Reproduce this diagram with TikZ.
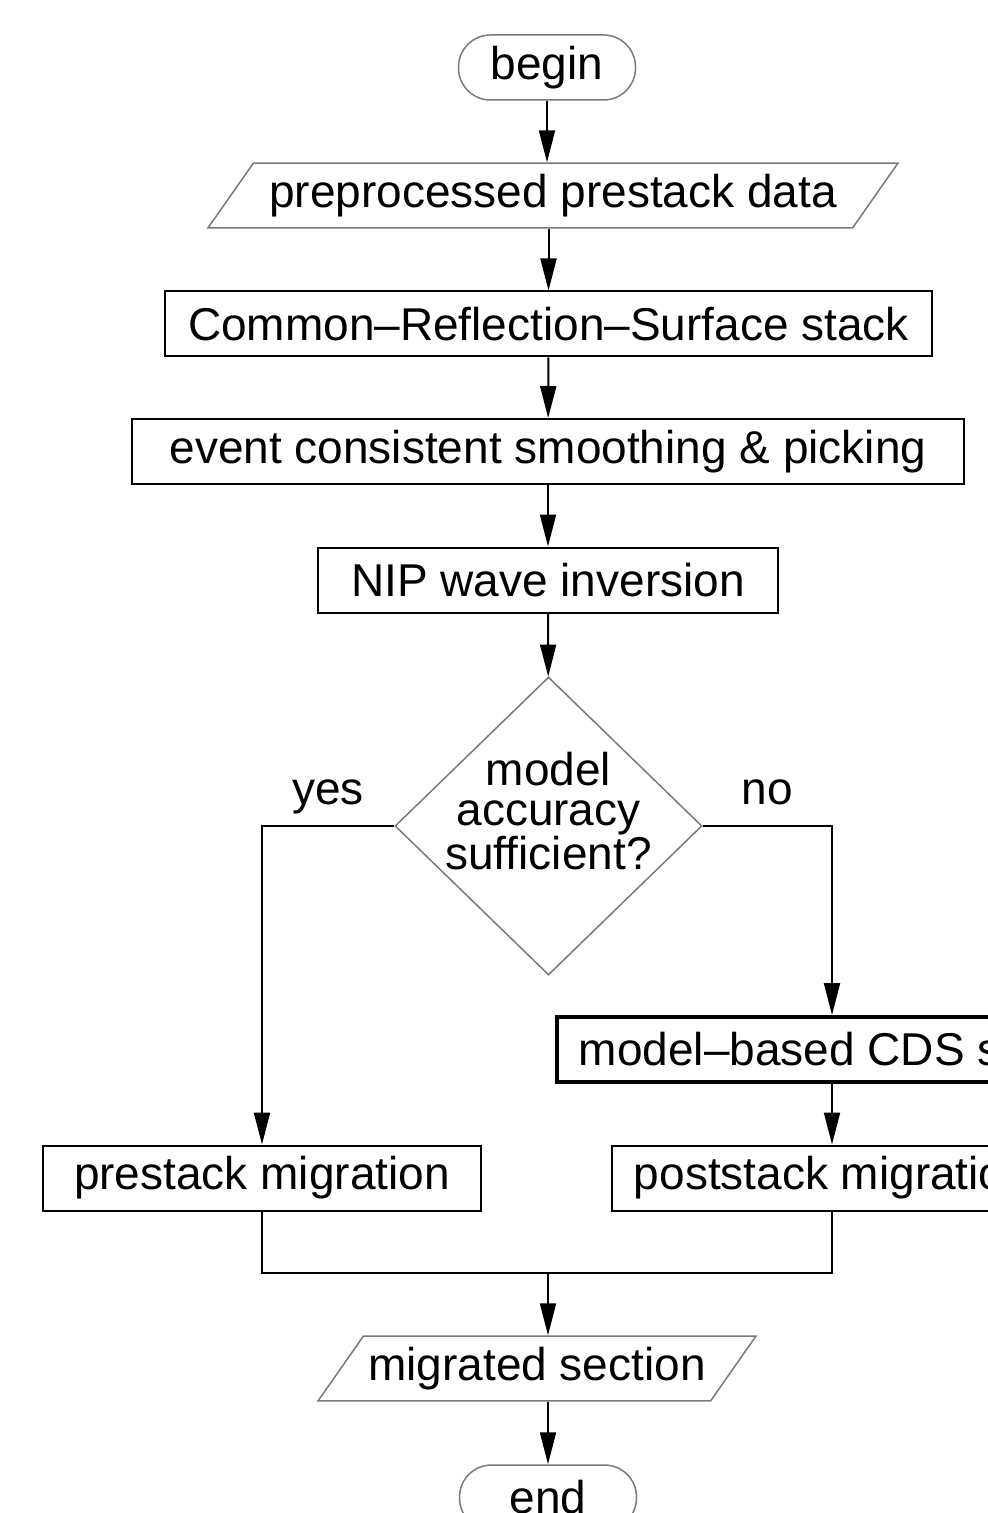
\documentclass[tikz,border=0pt]{standalone}
\usepackage{fontspec}
\setmainfont{Liberation Sans}
\usetikzlibrary{arrows.meta,shapes.geometric}
\definecolor{ink}{HTML}{000000}
\definecolor{rim}{HTML}{7A7A7A}

\begin{document}
\begin{tikzpicture}[x=0.5pt,y=-0.5pt,font=\fontsize{23}{27}\selectfont,>={Triangle[length=16pt,width=8pt]},
box/.style={draw=ink,line width=1pt,minimum height=32.5pt,inner sep=0pt},
term/.style={draw=rim,line width=0.75pt,rounded corners=16pt,minimum width=88.5pt,minimum height=32.5pt,inner sep=0pt},
io/.style={draw=rim,line width=0.75pt,trapezium,trapezium left angle=55,trapezium right angle=125,trapezium stretches body,inner xsep=0pt,inner ysep=5.5pt},
flow/.style={->,line width=1pt,ink}]
  \path[use as bounding box,clip] (0,0) rectangle (988,1513);
  \fill[white] (0,0) rectangle (988,1513);
  \node[term] (start) at (547,67.5) {begin};
  \node[io,minimum width=345pt] (input) at (553,195.5) {preprocessed prestack data};
  \node[box,minimum width=383.5pt] (crs) at (548.5,324) {Common--Reflection--Surface stack};
  \node[box,minimum width=416pt] (smooth) at (548,451.5) {event consistent smoothing \& picking};
  \node[box,minimum width=230pt] (nip) at (548,580) {NIP wave inversion};
  \node[draw=rim,line width=0.75pt,diamond,minimum width=153.5pt,minimum height=149pt,inner sep=0pt,
    label={[align=center,yshift=7.5pt,font=\fontsize{23}{20}\selectfont]center:model\\accuracy\\sufficient?}] (check) at (548.5,826) {};
  \node[anchor=base] (yes) at (328,804) {yes};
  \node[anchor=base] (no) at (767,804) {no};
  \node[box,line width=2pt,minimum width=275pt] (cds) at (832,1049.5) {model--based CDS stack};
  \node[box,minimum width=219pt] (premig) at (262,1178) {prestack migration};
  \node[box,minimum width=220pt] (postmig) at (832,1178) {poststack migration};
  \coordinate (join) at (548,1273);
  \node[io,minimum width=219pt] (output) at (537,1368.5) {migrated section};
  \node[term] (stop) at (548,1497.5) {end};
  \draw[flow] (start) -- (start |- input.north);
  \draw[flow] (input.south -| crs) -- (crs);
  \draw[flow] (crs) -- (smooth);
  \draw[flow] (smooth) -- (nip);
  \draw[flow] (nip) -- (check);
  \draw[flow] (check.west) -| (premig);
  \draw[flow] (check.east) -| (cds);
  \draw[flow] (cds) -- (postmig);
  \draw[line width=1pt,ink] (premig) |- (join) -| (postmig);
  \draw[flow] (join) -- (join |- output.north);
  \draw[flow] (output.south -| join) -- (stop);
\end{tikzpicture}
\end{document}
